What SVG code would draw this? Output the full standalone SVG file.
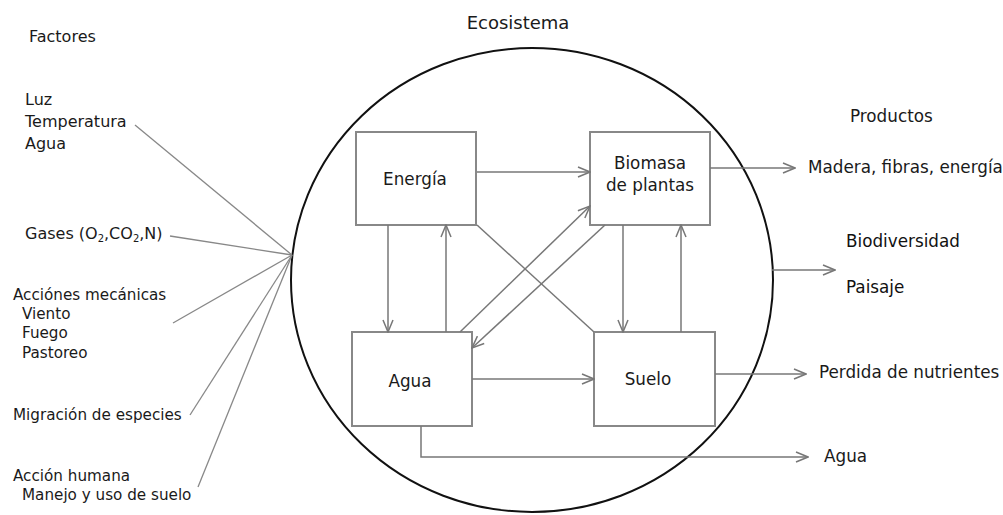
<svg xmlns="http://www.w3.org/2000/svg" width="1003" height="515" viewBox="0 0 1003 515">
<defs>
<marker id="arr" markerUnits="userSpaceOnUse" markerWidth="14" markerHeight="12" refX="13" refY="6" orient="auto">
<path d="M1,1 L13,6 L1,11" fill="none" stroke="#777" stroke-width="1.5"/>
</marker>
<style>
text{font-family:"DejaVu Sans","Verdana",sans-serif;fill:#1a1a1a;font-size:16px}
.sm{font-size:15.2px}
.lg{font-size:16.8px}
.box{fill:none;stroke:#888;stroke-width:2}
.c{fill:none;stroke:#777;stroke-width:1.5}
.a{marker-end:url(#arr)}
.fan{stroke:#888;stroke-width:1.3;fill:none}
</style>
</defs>
<rect width="1003" height="515" fill="#fff"/>
<text x="518" y="29" text-anchor="middle" style="font-size:18px">Ecosistema</text>
<ellipse id="ecosistema" cx="532" cy="280" rx="241" ry="232" fill="none" stroke="#111" stroke-width="2"/>

<g id="factores">
<text x="29" y="42">Factores</text>
<text x="25" y="105">Luz</text>
<text x="25" y="127">Temperatura</text>
<text x="25" y="149">Agua</text>
<text x="25" y="239">Gases (O<tspan dy="3" style="font-size:10px">2</tspan><tspan dy="-3">,CO</tspan><tspan dy="3" style="font-size:10px">2</tspan><tspan dy="-3">,N)</tspan></text>
<text class="sm" x="13" y="300">Acciónes mecánicas</text>
<text class="sm" x="22" y="319">Viento</text>
<text class="sm" x="22" y="338">Fuego</text>
<text class="sm" x="22" y="358">Pastoreo</text>
<text class="sm" x="13" y="420">Migración de especies</text>
<text class="sm" x="13" y="481">Acción humana</text>
<text class="sm" x="22" y="500">Manejo y uso de suelo</text>
</g>

<g id="fan">
<line class="fan" x1="135" y1="125" x2="292" y2="255"/>
<line class="fan" x1="170" y1="236" x2="292" y2="255"/>
<line class="fan" x1="173" y1="323" x2="292" y2="255"/>
<line class="fan" x1="190" y1="415" x2="292" y2="255"/>
<line class="fan" x1="198" y1="487" x2="292" y2="255"/>
</g>

<g id="energia">
<rect class="box" x="356" y="132" width="120" height="93"/>
<text class="lg" x="415" y="185" text-anchor="middle">Energía</text>
</g>
<g id="biomasa">
<rect class="box" x="590" y="132" width="120" height="93"/>
<text class="lg" x="650" y="169" text-anchor="middle">Biomasa</text>
<text class="lg" x="650" y="191" text-anchor="middle">de plantas</text>
</g>
<g id="agua">
<rect class="box" x="352" y="332" width="120" height="94"/>
<text class="lg" x="410" y="387" text-anchor="middle">Agua</text>
</g>
<g id="suelo">
<rect class="box" x="594" y="332" width="121" height="94"/>
<text class="lg" x="648" y="385" text-anchor="middle">Suelo</text>
</g>

<g id="connectors">
<line class="c a" x1="477" y1="172" x2="590" y2="172"/>
<line class="c a" x1="388" y1="225" x2="388" y2="332"/>
<line class="c a" x1="446" y1="332" x2="446" y2="225"/>
<line class="c a" x1="460" y1="332" x2="590" y2="206"/>
<line class="c a" x1="605" y1="225" x2="472" y2="348"/>
<line class="c" x1="477" y1="225" x2="594" y2="332"/>
<line class="c a" x1="623" y1="225" x2="623" y2="332"/>
<line class="c a" x1="681" y1="332" x2="681" y2="225"/>
<line class="c a" x1="472" y1="379" x2="594" y2="379"/>
<polyline class="c a" points="421,426 421,457 808,457"/>
<line class="c a" x1="710" y1="168" x2="795" y2="168"/>
<line class="c a" x1="772" y1="270" x2="835" y2="270"/>
<line class="c a" x1="715" y1="374" x2="806" y2="374"/>
</g>

<g id="productos">
<text class="lg" x="850" y="122">Productos</text>
<text class="lg" x="808" y="173">Madera, fibras, energía</text>
<text class="lg" x="846" y="247" style="fill:#111">Biodiversidad</text>
<text class="lg" x="846" y="293" style="fill:#111">Paisaje</text>
<text class="lg" x="819" y="378">Perdida de nutrientes</text>
<text class="lg" x="824" y="462">Agua</text>
</g>
</svg>
